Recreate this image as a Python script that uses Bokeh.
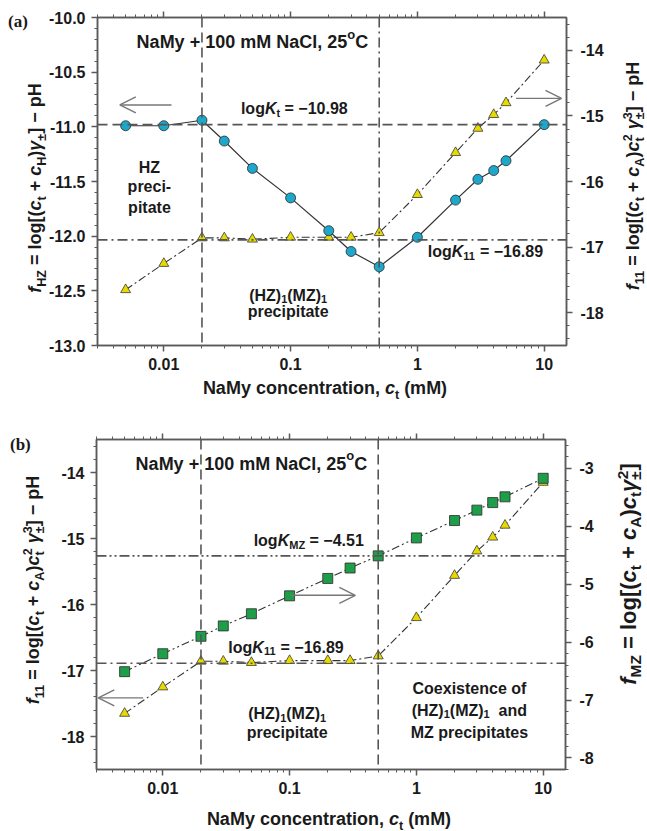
import math
from bokeh.plotting import figure
from bokeh.models import (Range1d, LinearAxis, LogAxis, FixedTicker, Label, Arrow, OpenHead,
                          Span, Div)
from bokeh.layouts import column, row
from bokeh.embed import file_html
from bokeh.resources import INLINE

# ---------------- data ----------------
conc = [0.005, 0.01, 0.02, 0.03, 0.05, 0.1, 0.2, 0.3, 0.5, 1, 2, 3, 4, 5, 10]
f_hz = [-10.99, -10.99, -10.94, -11.13, -11.38, -11.65, -11.95, -12.14, -12.28,
        -12.01, -11.67, -11.48, -11.40, -11.31, -10.98]
f_11 = [-17.65, -17.25, -16.86, -16.86, -16.88, -16.85, -16.85, -16.85, -16.78,
        -16.20, -15.56, -15.19, -14.98, -14.80, -14.15]
f_mz = [-6.51, -6.20, -5.90, -5.72, -5.51, -5.20, -4.90, -4.72, -4.51,
        -4.20, -3.90, -3.72, -3.59, -3.49, -3.17]
log_kt = -10.98
log_k11 = -16.89
log_kmz = -4.51
c_bound_low = 0.02
c_bound_high = 0.5

x_ticks = [0.01, 0.1, 1, 10]
x_tick_labels = ["0.01", "0.1", "1", "10"]
y_hz_ticks = [-13.0, -12.5, -12.0, -11.5, -11.0, -10.5, -10.0]
y_hz_labels = ["-13.0", "-12.5", "-12.0", "-11.5", "-11.0", "-10.5", "-10.0"]
y_11_ticks = [-18, -17, -16, -15, -14]
y_11_labels = ["-18", "-17", "-16", "-15", "-14"]
y_mz_ticks = [-8, -7, -6, -5, -4, -3]
y_mz_labels = ["-8", "-7", "-6", "-5", "-4", "-3"]

# ---------------- style ----------------
FONT = "Liberation Sans"
TXT = "#1a1a1a"
AX = "#5a5a5a"
REF = "#555555"
BLUE = "#1ea7ca"
YELLOW = "#e6da00"
GREEN = "#1f9e4a"

W = {' ': 278, '!': 333, '(': 333, ')': 333, '+': 584, ',': 278, '-': 333, '.': 278,
     '=': 584, '[': 333, ']': 333, '\u2212': 584, '\u00b1': 549, '\u03b3': 556, '\u00b0': 400,
     'A': 722, 'C': 722, 'H': 722, 'K': 722, 'M': 833, 'N': 722, 'Z': 611,
     'a': 556, 'c': 556, 'd': 611, 'e': 556, 'f': 333, 'g': 611, 'h': 611, 'i': 278,
     'l': 278, 'm': 889, 'n': 611, 'o': 611, 'p': 611, 'r': 389, 's': 556, 't': 333,
     'x': 556, 'y': 556}


def tw(s, size):
    return sum(W.get(ch, 556) for ch in s) * size / 1000.0


def rich(p, x, y, segs, size=16, align="center", yo=5.0):
    items = []
    pos = 0.0
    for text, st in segs:
        small = ("b" in st) or ("p" in st)
        sz = round(size * 0.7) if small else size
        shift = -round(0.28 * size) if "b" in st else (round(0.45 * size) if "p" in st else 0)
        lead = len(text) - len(text.lstrip(" "))
        items.append((text.strip(" "), st, sz, pos + tw(" " * lead, sz), shift))
        if "k" not in st:
            pos += tw(text, sz)
    total = pos
    start = {"left": 0.0, "center": -total / 2.0, "right": -total}[align]
    for text, st, sz, ps, shift in items:
        p.add_layout(Label(x=x, y=y, x_offset=round(start + ps, 1), y_offset=yo + shift,
                           text=text, text_font=FONT, text_font_size="%dpx" % sz,
                           text_font_style="bold italic" if "i" in st else "bold",
                           text_color=TXT, text_align="left", text_baseline="alphabetic"))


def minor_log(lo, hi):
    out = []
    for d in [0.001, 0.01, 0.1, 1, 10]:
        for k in range(2, 10):
            v = k * d
            if lo <= v <= hi:
                out.append(v)
    return out


def minor_lin(a, b, step):
    n = int(round((b - a) / step))
    return [round(a + i * step, 4) for i in range(n + 1)]


def style_axis(ax, fs="16px"):
    ax.axis_line_color = AX
    ax.axis_line_width = 1.5
    ax.major_tick_line_color = AX
    ax.major_tick_line_width = 1.5
    ax.minor_tick_line_color = AX
    ax.minor_tick_line_width = 1
    ax.major_tick_in = 0
    ax.major_tick_out = 6
    ax.minor_tick_in = 0
    ax.minor_tick_out = 3
    ax.major_label_text_font = FONT
    ax.major_label_text_font_style = "bold"
    ax.major_label_text_font_size = fs
    ax.major_label_text_color = TXT


def make_fig(height, top, bottom, yl, yr, yl_ticks, yl_labels, yl_minor,
             yr_ticks, yr_labels, yr_minor):
    p = figure(width=562, height=height, x_axis_type="log",
               x_range=Range1d(0.003, 15), y_range=Range1d(*yl),
               frame_width=469, frame_height=height - top - bottom,
               min_border_left=50, min_border_right=43, min_border_top=top,
               min_border_bottom=bottom, output_backend="svg", toolbar_location=None,
               background_fill_color="white", border_fill_color="white")
    p.xgrid.visible = False
    p.ygrid.visible = False
    p.outline_line_color = AX
    p.outline_line_width = 1.5
    p.extra_y_ranges = {"r": Range1d(*yr)}
    xmin = minor_log(0.003, 15)
    xa = p.xaxis[0]
    xa.ticker = FixedTicker(ticks=x_ticks, minor_ticks=xmin)
    xa.major_label_overrides = dict(zip(x_ticks, x_tick_labels))
    xa.major_label_standoff = 6
    style_axis(xa)
    top_ax = LogAxis(ticker=FixedTicker(ticks=x_ticks, minor_ticks=xmin))
    style_axis(top_ax, "1px")
    top_ax.major_label_text_alpha = 0
    top_ax.major_label_standoff = 0
    p.add_layout(top_ax, "above")
    ya = p.yaxis[0]
    ya.ticker = FixedTicker(ticks=yl_ticks, minor_ticks=yl_minor)
    ya.major_label_overrides = dict(zip(yl_ticks, yl_labels))
    ya.major_label_standoff = 6
    style_axis(ya)
    ra = LinearAxis(y_range_name="r", ticker=FixedTicker(ticks=yr_ticks, minor_ticks=yr_minor))
    ra.major_label_overrides = dict(zip(yr_ticks, yr_labels))
    ra.major_label_standoff = 8
    style_axis(ra)
    p.add_layout(ra, "right")
    return p


def vline(p, loc, dash):
    p.add_layout(Span(location=loc, dimension="height", line_color=REF, line_width=1.6,
                      line_dash=dash))


def hline(p, loc, dash, rng="default"):
    p.add_layout(Span(location=loc, dimension="width", line_color=REF, line_width=1.6,
                      line_dash=dash, y_range_name=rng))


def arrow(p, x0, y0, x1, y1):
    p.add_layout(Arrow(end=OpenHead(size=16, line_color="#777777", line_width=1.4),
                       x_start=x0, y_start=y0, x_end=x1, y_end=y1,
                       line_color="#777777", line_width=1.4))


CSS = ("<style>sub,sup{font-size:70%;line-height:0;} "
       ".t{font-family:'Liberation Sans',Arial,sans-serif;font-weight:bold;color:#1a1a1a;"
       "white-space:nowrap;position:absolute;text-align:center;} "
       ".pl{font-family:'Liberation Serif',serif;font-weight:bold;color:#1a1a1a;"
       "position:absolute;font-size:17px;line-height:17px;}</style>")

BOXW = 300
BOXH = 24


def side_div(w, h, html, cx, cy, size, extra=""):
    body = (CSS + '<div style="position:relative;width:%dpx;height:%dpx;">' % (w, h) + extra +
            '<div class="t" style="left:%dpx;top:%dpx;width:%dpx;height:%dpx;'
            'line-height:%dpx;font-size:%dpx;transform:rotate(-90deg);">%s</div></div>'
            % (cx - BOXW // 2, cy - BOXH // 2, BOXW, BOXH, BOXH, size, html))
    return Div(text=body, width=w, height=h, margin=0)


def xlabel_div(h, cx, top):
    html = "NaMy concentration, <i>c</i><sub>t</sub> (mM)"
    body = (CSS + '<div style="position:relative;width:647px;height:%dpx;">' % h +
            '<div class="t" style="left:%dpx;top:%dpx;width:%dpx;height:20px;line-height:20px;'
            'font-size:18px;">%s</div></div>' % (cx - BOXW // 2, top, BOXW, html))
    return Div(text=body, width=647, height=h, margin=0)


lab_hz = ("<i>f</i><sub>HZ</sub> = log[(<i>c</i><sub>t</sub> + <i>c</i><sub>H</sub>)"
          "<i>&gamma;</i><sub>&plusmn;</sub>] &minus; pH")
lab_11 = ("<i>f</i><sub>11</sub> = log[(<i>c</i><sub>t</sub> + <i>c</i><sub>A</sub>)"
          "<i>c</i><sub>t</sub><sup style=\"margin-left:-4px\">2</sup> "
          "<i>&gamma;</i><sub>&plusmn;</sub><sup style=\"margin-left:-7px\">3</sup>] &minus; pH")
lab_mz = ("<i>f</i><sub>MZ</sub> = log[(<i>c</i><sub>t</sub> + <i>c</i><sub>A</sub>)"
          "<i>c</i><sub>t</sub><i>&gamma;</i><sub>&plusmn;</sub>"
          "<sup style=\"margin-left:-8px\">2</sup>]")

title_segs = [("NaMy + 100 mM NaCl, 25", ""), ("o", "p"), ("C", "")]
hz11_segs = [("(HZ)", ""), ("1", "b"), ("(MZ)", ""), ("1", "b")]

# ================= panel (a) =================
pa = make_fig(378, 17, 33, (-13.0, -10.0), (-18.5, -13.5),
              y_hz_ticks, y_hz_labels, minor_lin(-13.0, -10.0, 0.1),
              y_11_ticks, y_11_labels, minor_lin(-18.4, -13.6, 0.2))
hline(pa, log_kt, "10 5")
hline(pa, log_k11, "10 4 2 4", "r")
vline(pa, c_bound_low, "10 5")
vline(pa, c_bound_high, "10 4 2 4")

pa.line(conc, f_11, y_range_name="r", line_color="#333333", line_width=1.1, line_dash="8 3 2 3")
pa.scatter(conc, f_11, y_range_name="r", marker="triangle", size=10,
           fill_color=YELLOW, line_color="#3a3a3a", line_width=0.8)
pa.line(conc, f_hz, line_color="#333333", line_width=1.2)
pa.scatter(conc, f_hz, marker="circle", size=10, fill_color=BLUE,
           line_color="#2a2a2a", line_width=0.8)

arrow(pa, 0.0115, -10.80, 0.0045, -10.80)
arrow(pa, 6.0, -10.74, 13.7, -10.74)

rich(pa, 0.05, -10.27, title_segs, size=18)
rich(pa, 0.107, -10.88, [("log", ""), ("K", "i"), ("t", "b"), (" = \u221210.98", "")])
rich(pa, 0.0077, -11.42, [("HZ", "")])
rich(pa, 0.0077, -11.59, [("preci-", "")])
rich(pa, 0.0077, -11.78, [("pitate", "")])
rich(pa, 3.44, -12.19, [("log", ""), ("K", "i"), ("11", "b"), (" = \u221216.89", "")])
rich(pa, 0.0957, -12.588, hz11_segs)
rich(pa, 0.0957, -12.735, [("precipitate", "")])

left_a = side_div(46, 378, lab_hz, 35, 188, 18,
                  extra='<div class="pl" style="left:8px;top:13px;">(a)</div>')
right_a = side_div(39, 378, lab_11, 24, 176, 18)
xlab_a = xlabel_div(22, 325, 0)

# ================= panel (b) =================
pb = make_fig(402, 39, 33, (-18.5, -13.5), (-8.2, -2.5),
              y_11_ticks, y_11_labels, minor_lin(-18.4, -13.6, 0.2),
              y_mz_ticks, y_mz_labels, minor_lin(-8.2, -2.6, 0.2))
hline(pb, log_kmz, "10 3 2 3 2 3", "r")
hline(pb, log_k11, "10 4 2 4")
vline(pb, c_bound_low, "10 5")
vline(pb, c_bound_high, "10 5")

pb.line(conc, f_11, line_color="#333333", line_width=1.1, line_dash="8 3 2 3")
pb.scatter(conc, f_11, marker="triangle", size=10,
           fill_color=YELLOW, line_color="#3a3a3a", line_width=0.8)
pb.line(conc, f_mz, y_range_name="r", line_color="#333333", line_width=1.1,
        line_dash="8 3 2 3 2 3")
pb.scatter(conc, f_mz, y_range_name="r", marker="square", size=10,
           fill_color=GREEN, line_color="#2a2a2a", line_width=0.8)

arrow(pb, 0.101, -15.86, 0.33, -15.86)
arrow(pb, 0.007, -17.415, 0.0031, -17.415)

rich(pb, 0.05, -13.94, title_segs, size=18)
rich(pb, 0.1416, -15.11, [("log", ""), ("K", "i"), ("MZ", "b"), (" = \u22124.51", "")])
rich(pb, 0.0937, -16.72, [("log", ""), ("K", "i"), ("11", "b"), (" = \u221216.89", "")])
rich(pb, 0.0957, -17.73, hz11_segs)
rich(pb, 0.0957, -18.02, [("precipitate", "")])
rich(pb, 2.62, -17.344, [("Coexistence of", "")])
rich(pb, 2.62, -17.677, hz11_segs + [("  and", "")])
rich(pb, 2.62, -18.02, [("MZ precipitates", "")])

left_b = side_div(46, 402, lab_11, 33, 190, 18,
                  extra='<div class="pl" style="left:10px;top:36px;">(b)</div>')
right_b = side_div(39, 402, lab_mz, 21, 174, 22)
xlab_b = xlabel_div(29, 329, 7)

layout = column(row(left_a, pa, right_a, spacing=0), xlab_a,
                row(left_b, pb, right_b, spacing=0), xlab_b, spacing=0)
open("out.html", "w").write(file_html(layout, INLINE))
